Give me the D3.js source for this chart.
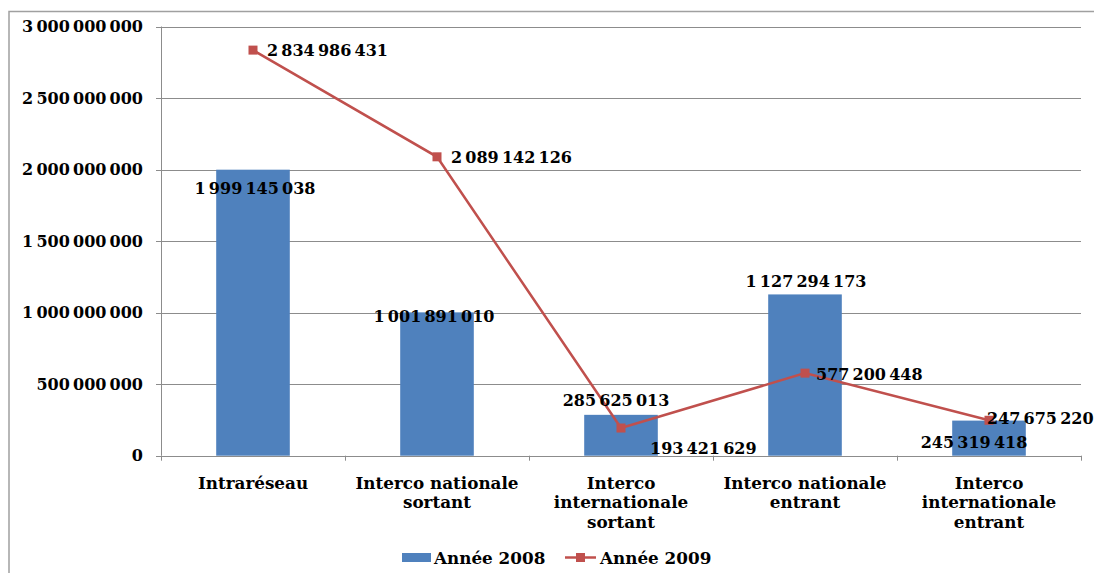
<!DOCTYPE html>
<html>
<head>
<meta charset="utf-8">
<script src="https://cdn.jsdelivr.net/npm/d3@7"></script>
<style>
  html, body { margin: 0; padding: 0; background: #fff; }
  svg { display: block; }
  text { font-family: "DejaVu Serif", serif; font-weight: bold; fill: #000; }
</style>
</head>
<body>
<svg id="chart" width="1094" height="573"></svg>
<script>
const categories = [
  ["Intraréseau"],
  ["Interco nationale", "sortant"],
  ["Interco", "internationale", "sortant"],
  ["Interco nationale", "entrant"],
  ["Interco", "internationale", "entrant"]
];
const values2008 = [1999145038, 1001891010, 285625013, 1127294173, 245319418];
const values2009 = [2834986431, 2089142126, 193421629, 577200448, 247675220];
const yTicks = [0, 500000000, 1000000000, 1500000000, 2000000000, 2500000000, 3000000000];
const seriesNames = ["Année 2008", "Année 2009"];

// label placement offsets (px), kept apart from data
const label2008Offsets = [[2, 19], [-3, 4], [-5, -14], [1, -13], [-15, 22]];
const label2009Offsets = [[14, 0], [14, 1], [29, 20], [11, 1], [-2, -2]];

const fmt = v => d3.format(",")(v).replace(/,/g, "\u2009");

const svg = d3.select("#chart");
const blue = "#4F81BD", red = "#C0504D", grid = "#8C8C8C";

// outer border
svg.append("path")
  .attr("d", "M9,573 V11.5 H1094")
  .attr("fill", "none").attr("stroke", "#A0A0A0").attr("stroke-width", 1.5);

const pL = 161, pR = 1081, pT = 26.5, pB = 455.7;
const x = d3.scaleBand().domain(d3.range(categories.length)).range([pL, pR]).padding(0);
const y = d3.scaleLinear().domain([0, 3000000000]).range([pB, pT]);

// gridlines
svg.append("g").selectAll("line").data(yTicks).join("line")
  .attr("x1", pL - 5).attr("x2", pR)
  .attr("y1", d => Math.round(y(d)) + 0.5).attr("y2", d => Math.round(y(d)) + 0.5)
  .attr("stroke", grid).attr("stroke-width", 1);

// y axis line
svg.append("line").attr("x1", pL + 0.5).attr("x2", pL + 0.5)
  .attr("y1", pT).attr("y2", pB).attr("stroke", grid);

// y tick labels
svg.append("g").selectAll("text").data(yTicks).join("text")
  .attr("x", 143).attr("y", d => y(d))
  .attr("text-anchor", "end").attr("dominant-baseline", "central")
  .style("font-size", "16px")
  .text(d => fmt(d));

// x ticks at band boundaries
const bounds = d3.range(categories.length + 1).map(i => pL + i * x.bandwidth());
svg.append("g").selectAll("line").data(bounds).join("line")
  .attr("x1", d => Math.round(d) + 0.5).attr("x2", d => Math.round(d) + 0.5)
  .attr("y1", pB).attr("y2", pB + 5).attr("stroke", grid);

// bars
const bw = x.bandwidth() * 0.4;
svg.append("g").selectAll("rect").data(values2008).join("rect")
  .attr("x", (d, i) => x(i) + x.bandwidth() / 2 - bw / 2)
  .attr("width", bw)
  .attr("y", d => y(d))
  .attr("height", d => pB - y(d))
  .attr("fill", blue);

// line
const cx = i => x(i) + x.bandwidth() / 2;
svg.append("path").datum(values2009)
  .attr("d", d3.line().x((d, i) => cx(i)).y(d => y(d)))
  .attr("fill", "none").attr("stroke", red).attr("stroke-width", 2.5);
svg.append("g").selectAll("rect").data(values2009).join("rect")
  .attr("x", (d, i) => cx(i) - 4.5).attr("y", d => y(d) - 4.5)
  .attr("width", 9).attr("height", 9).attr("fill", red);

// data labels 2008
svg.append("g").selectAll("text").data(values2008).join("text")
  .attr("x", (d, i) => cx(i) + label2008Offsets[i][0])
  .attr("y", (d, i) => y(d) + label2008Offsets[i][1])
  .attr("text-anchor", "middle").attr("dominant-baseline", "central")
  .style("font-size", "16px")
  .text(d => fmt(d));

// data labels 2009
svg.append("g").selectAll("text").data(values2009).join("text")
  .attr("x", (d, i) => cx(i) + label2009Offsets[i][0])
  .attr("y", (d, i) => y(d) + label2009Offsets[i][1])
  .attr("text-anchor", "start").attr("dominant-baseline", "central")
  .style("font-size", "16px")
  .text(d => fmt(d));

// category labels
const cat = svg.append("g").selectAll("text").data(categories).join("text")
  .attr("text-anchor", "middle").style("font-size", "16.8px");
cat.each(function(lines, i) {
  d3.select(this).selectAll("tspan").data(lines).join("tspan")
    .attr("x", cx(i))
    .attr("y", (l, j) => 483 + j * 19.3)
    .attr("dominant-baseline", "central")
    .text(l => l);
});

// legend
const lg = svg.append("g");
lg.append("rect").attr("x", 402).attr("y", 553).attr("width", 29).attr("height", 9).attr("fill", blue);
lg.append("text").attr("x", 434).attr("y", 558).attr("dominant-baseline", "central")
  .style("font-size", "16.8px").text(seriesNames[0]);
lg.append("line").attr("x1", 565).attr("x2", 596).attr("y1", 557.5).attr("y2", 557.5)
  .attr("stroke", red).attr("stroke-width", 2.5);
lg.append("rect").attr("x", 576).attr("y", 553).attr("width", 9).attr("height", 9).attr("fill", red);
lg.append("text").attr("x", 600).attr("y", 558).attr("dominant-baseline", "central")
  .style("font-size", "16.8px").text(seriesNames[1]);
</script>
</body>
</html>
